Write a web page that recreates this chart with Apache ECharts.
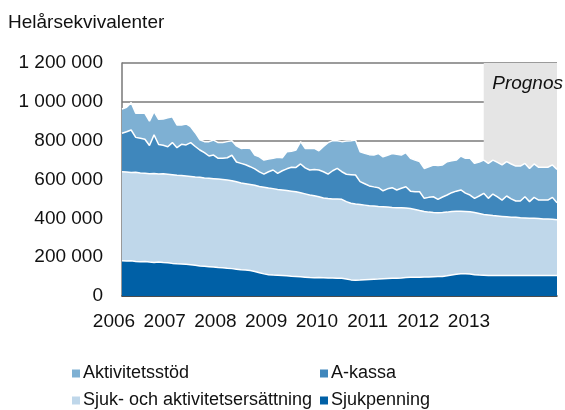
<!DOCTYPE html>
<html lang="sv">
<head>
<meta charset="UTF-8">
<title>Helårsekvivalenter</title>
<script src="https://cdn.jsdelivr.net/npm/echarts@6/dist/echarts.min.js"></script>
<style>
  html, body { margin: 0; padding: 0; background: #fff; }
  #chart { width: 565px; height: 410px; }
</style>
</head>
<body>
<div id="chart"></div>
<script>
// år på x-axeln, månadsdata jan 2006 - dec 2013 (tusental helårsekvivalenter)
var years = [2006, 2007, 2008, 2009, 2010, 2011, 2012, 2013];
var prognosStart = '2012-08';

var sjukpenning = [182,180,181,178,176,178,175,173,175,172,171,168,
  166,165,164,161,158,155,153,151,149,147,146,143,
  141,138,135,134,131,126,120,114,110,108,107,106,
  104,102,101,99,97,95,94,95,94,93,93,92,
  92,88,83,81,82,84,85,86,87,89,90,91,
  92,93,95,96,97,97,98,98,99,100,101,104,
  108,112,114,114,113,110,108,107,106,106,105,105,
  105,105,105,105,105,105,105,105,105,105,105,105];

var sjukAktivitet = [458,458,455,459,458,454,455,458,453,457,456,457,
  456,455,454,455,455,456,455,455,455,455,454,454,
  453,450,447,444,443,444,444,446,446,445,442,440,
  439,438,436,433,429,425,422,416,411,409,407,407,
  406,398,395,393,389,384,380,377,374,371,368,365,
  363,361,358,355,349,343,337,334,331,329,329,328,
  327,324,322,321,321,320,317,313,311,308,307,305,
  303,301,300,298,297,296,295,294,292,291,290,288];

var aKassa = [198,208,219,180,178,175,145,199,152,147,142,165,
  142,161,160,174,157,141,130,115,122,107,109,115,
  131,102,101,98,92,85,75,68,84,96,83,99,
  112,123,125,148,134,129,136,138,135,126,145,158,
  142,141,147,149,118,110,102,99,97,82,94,102,
  91,101,110,89,91,97,68,76,81,69,80,88,
  97,104,110,95,86,73,90,109,86,111,98,84,
  107,94,84,86,109,85,108,95,97,98,113,87];

var aktivitetsstod = [125,126,141,124,129,134,126,119,130,136,149,133,
  117,100,108,82,71,53,57,74,77,81,81,83,
  75,83,77,86,94,71,78,72,66,61,82,67,
  88,82,90,115,100,111,108,99,130,162,155,143,
  155,171,175,180,154,157,161,164,176,175,173,176,
  184,171,175,169,163,155,154,157,164,174,165,172,
  164,160,175,179,189,180,175,171,180,175,178,181,
  177,180,180,180,172,171,172,169,169,169,167,172];

var yTicks = [0, 200000, 400000, 600000, 800000, 1000000, 1200000];

var months = [];
years.forEach(function (y) {
  for (var m = 1; m <= 12; m++) {
    months.push(y + '-' + (m < 10 ? '0' + m : m));
  }
});

function toValues(list) {
  return list.map(function (v) { return v * 1000; });
}

// tusentalsavgränsare med mellanslag
function fmt(v) {
  return String(v).replace(/\B(?=(\d{3})+(?!\d))/g, ' ');
}

var font = 'Liberation Sans, Arial, Helvetica, sans-serif';
var chart = echarts.init(document.getElementById('chart'));

function areaSeries(name, data, color) {
  return {
    name: name,
    type: 'line',
    stack: 'total',
    xAxisIndex: 0,
    yAxisIndex: 0,
    symbol: 'none',
    data: toValues(data),
    lineStyle: { color: '#ffffff', width: 1.5 },
    itemStyle: { color: color },
    areaStyle: { color: color, opacity: 1 },
    z: 2
  };
}

var legendText = { fontSize: 18, color: '#111', lineHeight: 19, padding: [0, 0, 0, -2] };

var option = {
  animation: false,
  textStyle: { fontFamily: font },
  title: {
    text: 'Helårsekvivalenter',
    left: 3,
    top: 8,
    textStyle: { fontSize: 19, fontWeight: 'normal', color: '#111', fontFamily: font }
  },
  graphic: [{
    type: 'text',
    right: 2,
    top: 74,
    z: 100,
    style: { text: 'Prognos', font: 'italic 19px ' + font, fill: '#111' }
  }],
  legend: [{
    left: 72,
    top: 364,
    padding: 0,
    orient: 'vertical',
    icon: 'rect',
    itemWidth: 8,
    itemHeight: 8,
    itemGap: 8,
    textStyle: legendText,
    data: ['Aktivitetsstöd', 'Sjuk- och aktivitetsersättning']
  }, {
    left: 320,
    top: 364,
    padding: 0,
    orient: 'vertical',
    icon: 'rect',
    itemWidth: 8,
    itemHeight: 8,
    itemGap: 8,
    textStyle: legendText,
    data: ['A-kassa', 'Sjukpenning']
  }],
  grid: [
    { left: 122, right: 8, top: 63, bottom: 114 },
    { left: 114, right: 96, top: 63, bottom: 114 }
  ],
  xAxis: [{
    gridIndex: 0,
    type: 'category',
    boundaryGap: false,
    data: months,
    z: 1,
    axisLine: { lineStyle: { color: '#333', width: 1.5 } },
    axisTick: { show: false },
    axisLabel: { show: false },
    splitLine: { show: false }
  }, {
    gridIndex: 1,
    type: 'value',
    min: years[0],
    max: years[years.length - 1],
    interval: 1,
    axisLine: { show: false },
    axisTick: { show: false },
    splitLine: { show: false },
    axisLabel: { margin: 16, fontSize: 19, color: '#111', formatter: function (v) { return String(v); } }
  }],
  yAxis: [{
    gridIndex: 0,
    type: 'value',
    min: yTicks[0],
    max: yTicks[yTicks.length - 1],
    interval: 200000,
    z: 1,
    axisLine: { show: true, lineStyle: { color: '#777', width: 1.5 } },
    axisTick: { show: false },
    axisLabel: { margin: 19, fontSize: 19, color: '#111', formatter: fmt },
    splitLine: { lineStyle: { color: '#7a7a7a', width: 1.5 } }
  }, {
    gridIndex: 1,
    type: 'value',
    show: false
  }],
  series: [
    {
      name: 'prognos',
      type: 'line',
      xAxisIndex: 0,
      yAxisIndex: 0,
      data: [],
      z: 0,
      silent: true,
      markArea: {
        silent: true,
        itemStyle: { color: '#e5e5e5' },
        data: [[{ xAxis: prognosStart }, { xAxis: months[months.length - 1] }]]
      }
    },
    areaSeries('Sjukpenning', sjukpenning, '#0060a6'),
    areaSeries('Sjuk- och aktivitetsersättning', sjukAktivitet, '#bfd7ea'),
    areaSeries('A-kassa', aKassa, '#3f87bc'),
    areaSeries('Aktivitetsstöd', aktivitetsstod, '#7eb0d3')
  ]
};

chart.setOption(option);
</script>
</body>
</html>
